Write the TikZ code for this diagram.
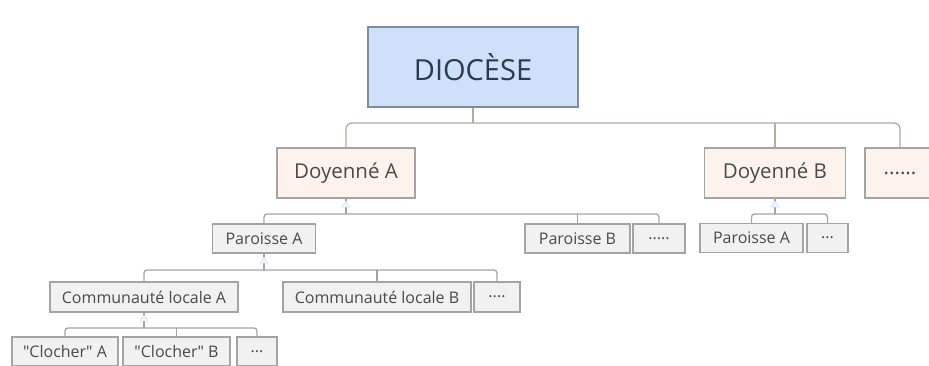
\documentclass[tikz,border=0pt]{standalone}
\usepackage{fontspec}
\setmainfont{Open Sans}
\usetikzlibrary{shapes.geometric}
\definecolor{dioFill}{HTML}{CFE0FA}
\definecolor{dioLine}{HTML}{7E8CA0}
\definecolor{dioText}{HTML}{2E3A4E}
\definecolor{doyFill}{HTML}{FDF3EC}
\definecolor{boxFill}{HTML}{F1F1F1}
\definecolor{boxLine}{HTML}{A4A4A4}
\definecolor{topLink}{HTML}{B4AC9E}
\definecolor{txtGray}{HTML}{4A4A4A}
\newcommand{\busDio}{123}
\newcommand{\linkWidth}{1.3pt}

\begin{document}
\begin{tikzpicture}[x=1pt, y=-1pt,
    dioBox/.style={draw=dioLine, line width=1.5pt, fill=dioFill, minimum width=210pt, minimum height=80pt,
      text=dioText, font=\fontsize{29}{29}\selectfont},
    doyBox/.style={draw=boxLine, line width=1.2pt, fill=doyFill, minimum height=50pt, inner sep=0pt,
      text=txtGray, font=\fontsize{20.5}{20.5}\selectfont},
    parBox/.style={draw=boxLine, line width=1.2pt, fill=boxFill, minimum height=29pt, inner sep=0pt,
      text=txtGray, font=\fontsize{16}{16}\selectfont},
    topLk/.style={draw=topLink, line width=\linkWidth, rounded corners=6pt},
    lk/.style={draw=boxLine, line width=\linkWidth, rounded corners=3pt},
    fold/.style={draw=blue!15!white, fill=blue!5!white, isosceles triangle, shape border rotate=90,
      isosceles triangle apex angle=70, minimum size=6pt, inner sep=0pt, line width=0.6pt}]
\useasboundingbox (0,0) rectangle (929,366);

\node[dioBox] (dio) at (473,67) {DIOCÈSE};

\node[doyBox, minimum width=138pt] (doyA) at (346,173) {Doyenné A};
\node[doyBox, minimum width=141pt] (doyB) at (775,173) {Doyenné B};
\node[doyBox, minimum width=70pt] (doyEtc) at (900,173) {......};

\node[parBox, minimum width=103pt] (parA) at (264,238.5) {Paroisse A};
\node[parBox, minimum width=105pt] (parB) at (577.5,238.5) {Paroisse B};
\node[parBox, minimum width=52pt] (parEtc) at (659,238.5) {.....};

\node[parBox, minimum width=103pt] (parBA) at (751.5,238) {Paroisse A};
\node[parBox, minimum width=41pt] (parBEtc) at (827.5,238) {...};

\node[parBox, minimum width=188pt, minimum height=30pt] (comA) at (144,297) {Communauté locale A};
\node[parBox, minimum width=188pt, minimum height=30pt] (comB) at (377,297) {Communauté locale B};
\node[parBox, minimum width=46pt, minimum height=30pt] (comEtc) at (497,297) {....};

\node[parBox, minimum width=106pt] (cloA) at (65,351.5) {\textquotedbl Clocher\textquotedbl{} A};
\node[parBox, minimum width=107pt] (cloB) at (176.5,351.5) {\textquotedbl Clocher\textquotedbl{} B};
\node[parBox, minimum width=40pt] (cloEtc) at (257,351.5) {...};

% bus lines
\coordinate (busD) at (473,\busDio);
\coordinate (busA) at (346,214);
\coordinate (busB) at (775,214);
\coordinate (busP) at (264,270);
\coordinate (busC) at (144,328);

\draw[topLk] (doyA.north) -- (doyA.north |- busD) -| (doyEtc.north);
\draw[topLk, rounded corners=0pt] (dio.south) -- (busD);
\draw[topLk, rounded corners=0pt] (doyB.north) -- (doyB.north |- busD);

\draw[lk] (parA.north) -- (parA.north |- busA) -| (parEtc.north);
\draw[lk, rounded corners=0pt] (doyA.south) -- (busA);
\draw[lk, rounded corners=0pt] (parB.north) -- (parB.north |- busA);

\draw[lk] (parBA.north) -- (parBA.north |- busB) -| (parBEtc.north);
\draw[lk, rounded corners=0pt] (doyB.south) -- (busB);

\draw[lk] (comA.north) -- (comA.north |- busP) -| (comEtc.north);
\draw[lk, rounded corners=0pt] (parA.south) -- (busP);
\draw[lk, rounded corners=0pt] (comB.north) -- (comB.north |- busP);

\draw[lk] (cloA.north) -- (cloA.north |- busC) -| (cloEtc.north);
\draw[lk, rounded corners=0pt] (comA.south) -- (busC);
\draw[lk, rounded corners=0pt] (cloB.north) -- (cloB.north |- busC);

% fold markers
\node[fold] (foldA) at (346,205) {};
\node[fold] (foldB) at (775,205) {};
\node[fold] (foldP) at (264,261) {};
\node[fold] (foldC) at (144,319) {};
\end{tikzpicture}
\end{document}
